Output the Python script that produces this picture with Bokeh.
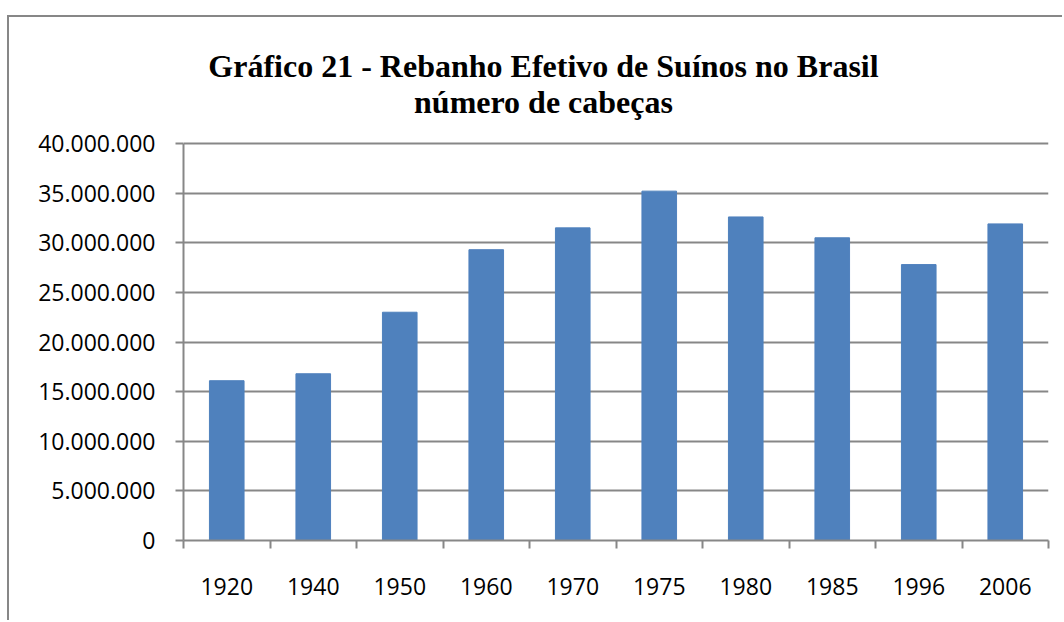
from bokeh.plotting import figure
from bokeh.models import Label, FixedTicker, Range1d
from bokeh.embed import file_html
from bokeh.resources import INLINE

years = ["1920", "1940", "1950", "1960", "1970", "1975", "1980", "1985", "1996", "2006"]
heads = [16_100_000, 16_800_000, 23_000_000, 29_300_000, 31_500_000,
         35_200_000, 32_600_000, 30_500_000, 27_800_000, 31_900_000]
y_ticks = [0, 5_000_000, 10_000_000, 15_000_000, 20_000_000,
           25_000_000, 30_000_000, 35_000_000, 40_000_000]
title_line1 = "Gráfico 21 - Rebanho Efetivo de Suínos no Brasil"
title_line2 = "número de cabeças"

GRAY = "#878787"
BAR = "#4F81BD"
TICK_FONT = "Open Sans"

# layout (page pixels)
FRAME_LEFT, FRAME_RIGHT = 183, 1048
FRAME_TOP, ZERO_Y, TOP_TICK_Y = 20, 540, 143
CANVAS_X, CANVAS_Y = 9, 17
PX_PER_UNIT = (ZERO_Y - TOP_TICK_Y) / y_ticks[-1]
y_end = (ZERO_Y - FRAME_TOP) / PX_PER_UNIT
x_px_per_cat = (FRAME_RIGHT - FRAME_LEFT) / len(years)

centers = [i + 0.5 for i in range(len(years))]
bounds = list(range(len(years) + 1))

p = figure(frame_width=FRAME_RIGHT - FRAME_LEFT, frame_height=ZERO_Y - FRAME_TOP,
           min_border_left=FRAME_LEFT - CANVAS_X, min_border_right=14,
           min_border_top=FRAME_TOP - CANVAS_Y, min_border_bottom=80,
           output_backend="svg", toolbar_location=None,
           x_range=Range1d(0, len(years)), y_range=Range1d(0, y_end))
p.styles = {"margin-top": "15px", "margin-left": "7px",
            "border-top": f"2px solid {GRAY}", "border-left": f"2px solid {GRAY}"}
p.outline_line_color = None
p.background_fill_color = "white"
p.border_fill_color = "white"

p.vbar(x=centers, top=heads, width=0.4, fill_color=BAR, line_color=BAR)

p.xgrid.visible = False
p.ygrid.ticker = FixedTicker(ticks=y_ticks)
p.ygrid.grid_line_color = GRAY
p.ygrid.grid_line_width = 2

ya = p.yaxis[0]
ya.bounds = (0, y_ticks[-1])
ya.ticker = FixedTicker(ticks=y_ticks, minor_ticks=[])
ya.major_label_overrides = {v: f"{v:,}".replace(",", ".") for v in y_ticks}
ya.axis_line_color = GRAY
ya.axis_line_width = 2
ya.major_tick_line_color = GRAY
ya.major_tick_line_width = 2
ya.major_tick_out = 8
ya.major_tick_in = 0
ya.minor_tick_line_color = None
ya.major_label_standoff = 20
ya.major_label_text_font = TICK_FONT
ya.major_label_text_font_size = "23px"
ya.major_label_text_color = "black"

xa = p.xaxis[0]
xa.ticker = FixedTicker(ticks=centers, minor_ticks=bounds)
xa.major_label_overrides = {c: y for c, y in zip(centers, years)}
xa.axis_line_color = GRAY
xa.axis_line_width = 2
xa.major_tick_line_color = None
xa.major_tick_out = 0
xa.major_tick_in = 0
xa.minor_tick_line_color = GRAY
xa.minor_tick_line_width = 2
xa.minor_tick_out = 8
xa.minor_tick_in = 0
xa.major_label_standoff = 29
xa.major_label_text_font = TICK_FONT
xa.major_label_text_font_size = "23px"
xa.major_label_text_color = "black"

TITLE_CX = 543
for txt, base_y in [(title_line1, 65), (title_line2, 101.7)]:
    p.add_layout(Label(x=(TITLE_CX - FRAME_LEFT) / x_px_per_cat,
                       y=(ZERO_Y - base_y) / PX_PER_UNIT,
                       text=txt, text_align="center", text_baseline="alphabetic",
                       text_font="Liberation Serif", text_font_style="bold",
                       text_font_size="32px", text_color="black"))

open("out.html", "w").write(file_html(p, INLINE))
